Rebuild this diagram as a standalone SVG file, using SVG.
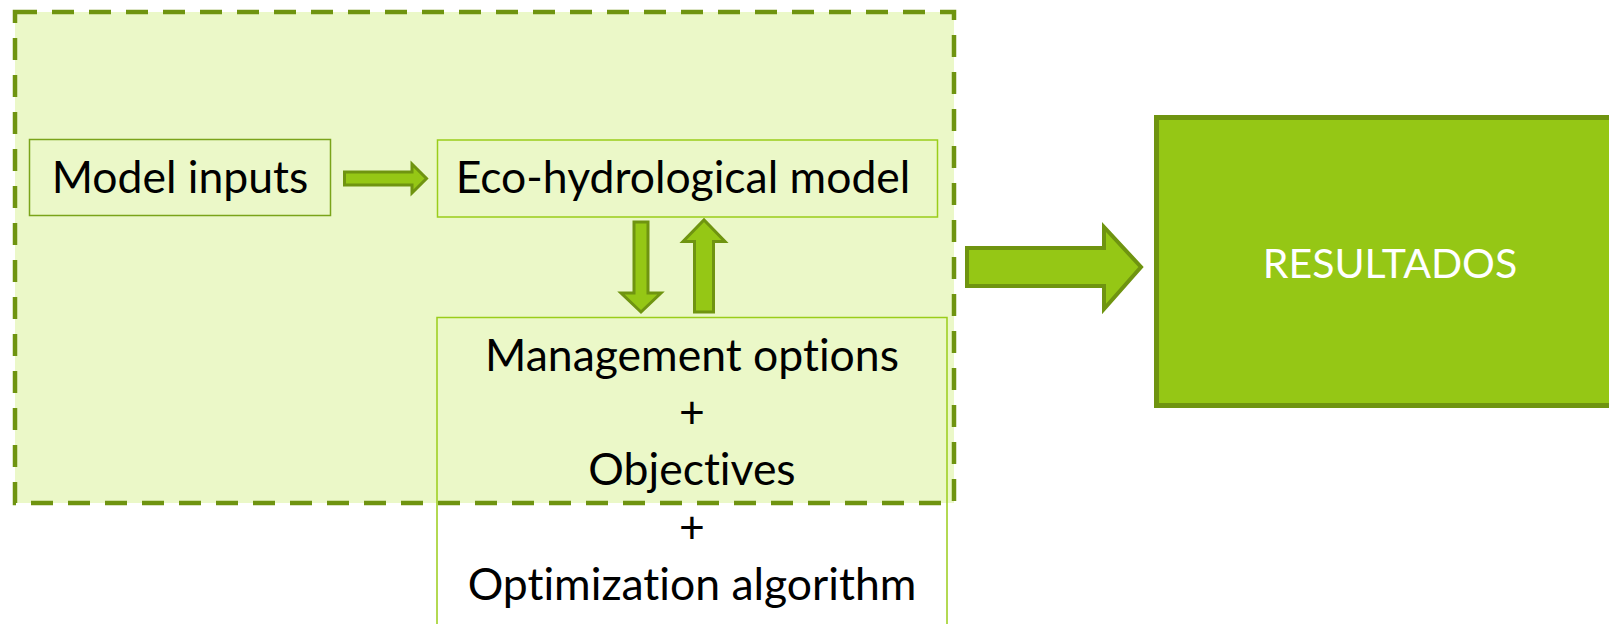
<svg xmlns="http://www.w3.org/2000/svg" width="1609" height="624" viewBox="0 0 1609 624">
  <style>
    .lbl { font-family: Lato, "Open Sans", "Liberation Sans", sans-serif; font-size: 44.5px; fill: #000; text-anchor: middle; font-variant-ligatures: none; font-feature-settings: "liga" 0, "clig" 0; }
    .res { font-family: Lato, "Open Sans", "Liberation Sans", sans-serif; font-size: 41px; font-weight: 400; fill: #fff; text-anchor: middle; }
    .arrow { fill: #95c715; stroke: #6f9410; stroke-linejoin: miter; }
  </style>
  <rect width="1609" height="624" fill="#ffffff"/>
  <g id="container">
    <rect x="15" y="12" width="939" height="491" fill="#ebf8c8" stroke="none"/>
  </g>
  <g id="model-inputs">
    <rect x="29.5" y="139.5" width="301" height="76" fill="none" stroke="#7aa41a" stroke-width="1.5"/>
    <text class="lbl" x="180" y="193">Model inputs</text>
  </g>
  <g id="eco-model">
    <rect x="437.5" y="140" width="500" height="77" fill="none" stroke="#9acd1a" stroke-width="1.5"/>
    <text class="lbl" x="683" y="193">Eco-hydrological model</text>
  </g>
  <g id="management">
    <rect x="437" y="317.5" width="510" height="320" fill="none" stroke="#9acd1a" stroke-width="1.5"/>
    <text class="lbl" x="692" y="371">Management options</text>
    <text class="lbl" x="692" y="428">+</text>
    <text class="lbl" x="692" y="485">Objectives</text>
    <text class="lbl" x="692" y="543">+</text>
    <text class="lbl" x="692" y="600">Optimization algorithm</text>
  </g>
  <g id="container-border">
    <rect x="15" y="12" width="939" height="491" fill="none" stroke="#6f9410" stroke-width="4.5" stroke-dasharray="22 15"/>
  </g>
  <g id="resultados">
    <rect x="1156.5" y="117.5" width="470" height="288" fill="#95c715" stroke="#6f9410" stroke-width="5"/>
    <text class="res" x="1390" y="278">RESULTADOS</text>
  </g>
  <g id="connectors">
    <polygon class="arrow" stroke-width="3" points="344.5,172 412,172 412,164 426.5,178.5 412,193 412,185 344.5,185"/>
    <polygon class="arrow" stroke-width="3" points="634,222 648,222 648,293 661,293 641,312 621,293 634,293"/>
    <polygon class="arrow" stroke-width="3" points="694.5,312 713.5,312 713.5,241.5 725,241.5 704,220 683,241.5 694.5,241.5"/>
    <polygon class="arrow" stroke-width="4" points="967,248 1104,248 1104,227 1141,267 1104,309 1104,286 967,286"/>
  </g>
</svg>
